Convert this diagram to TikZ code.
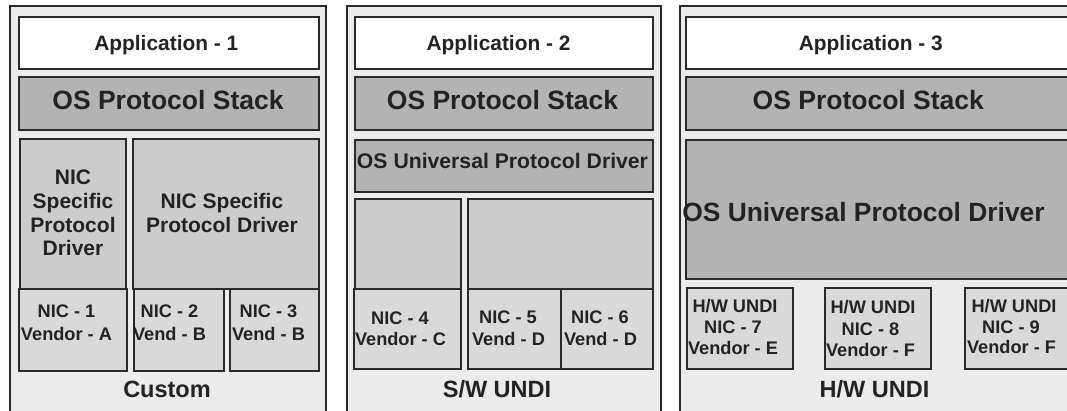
\documentclass[tikz,border=0pt]{standalone}
\usepackage{fontspec}
\setmainfont{Liberation Sans}
\definecolor{panelbg}{HTML}{EBEBEB}
\definecolor{stackgray}{HTML}{B3B3B3}
\definecolor{drvgray}{HTML}{CCCCCC}
\definecolor{nicgray}{HTML}{D9D9D9}
\definecolor{edge}{HTML}{2A2A2A}
\definecolor{ink}{HTML}{232323}
\newcommand\myfs[1]{\fontsize{#1}{#1}\selectfont\bfseries}
\newcommand\mybox[6]{\node[boxst,fill=#6,anchor=north west,minimum width={(#4-#2)*1pt},minimum height={(#5-#3)*1pt}] (#1) at (#2,#3) {};}
\newcommand\mytxt[5]{\node[lbl,font=\myfs{#4}] (#1) at (#2,#3) {#5};}
\begin{document}
\begin{tikzpicture}[x=1pt,y=-1pt,
  boxst/.style={draw=edge,line width=1.1pt,rectangle,inner sep=0pt,outer sep=0pt},
  panelst/.style={draw=edge,line width=1.3pt,fill=panelbg,rectangle,inner sep=0pt,outer sep=0pt},
  lbl/.style={text=ink,inner sep=0pt,anchor=base}]
\useasboundingbox (0,0) rectangle (1067,410);
\clip (0,0) rectangle (1067,410);
% panels
\node[panelst,anchor=north west,minimum width=316pt,minimum height=410pt] (p1) at (10,6) {};
\node[panelst,anchor=north west,minimum width=314pt,minimum height=410pt] (p2) at (347,6) {};
\node[panelst,anchor=north west,minimum width=395pt,minimum height=410pt] (p3) at (680,6) {};
% panel 1
\mybox{app1}{19}{17}{319}{69}{white}
\mybox{ps1}{19}{77}{319}{130}{stackgray}
\mybox{nsA}{20}{139}{126}{289}{drvgray}
\mybox{nsB}{133}{139}{319}{289}{drvgray}
\mybox{nic1}{19}{289}{127}{371}{nicgray}
\mybox{nic2}{134}{289}{224}{371}{nicgray}
\mybox{nic3}{230}{289}{319}{371}{nicgray}
% panel 2
\mybox{app2}{355}{17}{653}{69}{white}
\mybox{ps2}{355}{77}{653}{130}{stackgray}
\mybox{oud2}{355}{140}{653}{192}{stackgray}
\mybox{bl1}{355}{199}{461}{289}{drvgray}
\mybox{bl2}{468}{199}{653}{289}{drvgray}
\mybox{nic4}{354}{289}{461}{369}{nicgray}
\mybox{nic5}{468}{289}{561}{369}{nicgray}
\mybox{nic6}{561}{289}{653}{369}{nicgray}
% panel 3
\mybox{app3}{686}{17}{1075}{69}{white}
\mybox{ps3}{686}{77}{1075}{130}{stackgray}
\mybox{oud3}{686}{140}{1075}{279}{stackgray}
\mybox{nic7}{687}{288}{793}{369}{nicgray}
\mybox{nic8}{825}{288}{931}{369}{nicgray}
\mybox{nic9}{965}{288}{1071}{369}{nicgray}
% texts panel 1
\mytxt{tapp1}{166.3}{50}{20.9}{Application - 1}
\mytxt{tps1}{168}{109.3}{26.5}{OS Protocol Stack}
\mytxt{tnsA1}{73}{184}{21}{NIC}
\mytxt{tnsA2}{73}{208}{21}{Specific}
\mytxt{tnsA3}{73}{232}{21}{Protocol}
\mytxt{tnsA4}{73}{255}{21}{Driver}
\mytxt{tnsB1}{222}{208.5}{21}{NIC Specific}
\mytxt{tnsB2}{222}{232}{21}{Protocol Driver}
\mytxt{tnic1a}{66.5}{317}{18.2}{NIC - 1}
\mytxt{tnic1b}{66.5}{340}{18.2}{Vendor - A}
\mytxt{tnic2a}{169.5}{317}{18.2}{NIC - 2}
\mytxt{tnic2b}{169.5}{340}{18.2}{Vend - B}
\mytxt{tnic3a}{268.5}{317.5}{18.2}{NIC - 3}
\mytxt{tnic3b}{268.5}{340}{18.2}{Vend - B}
\mytxt{tcustom}{167}{397}{23.5}{Custom}
% texts panel 2
\mytxt{tapp2}{498.5}{50}{20.9}{Application - 2}
\mytxt{tps2}{502.5}{109.3}{26.5}{OS Protocol Stack}
\mytxt{toud2}{502.5}{168.3}{21.2}{OS Universal Protocol Driver}
\mytxt{tnic4a}{400}{324}{18.2}{NIC - 4}
\mytxt{tnic4b}{400.5}{345}{18.2}{Vendor - C}
\mytxt{tnic5a}{508}{323}{18.2}{NIC - 5}
\mytxt{tnic5b}{508.5}{345}{18.2}{Vend - D}
\mytxt{tnic6a}{600}{323}{18.2}{NIC - 6}
\mytxt{tnic6b}{600.5}{345}{18.2}{Vend - D}
\mytxt{tswundi}{497}{397}{23.5}{S/W UNDI}
% texts panel 3
\mytxt{tapp3}{870.8}{50}{20.9}{Application - 3}
\mytxt{tps3}{868.3}{109.3}{26.5}{OS Protocol Stack}
\mytxt{toud3}{863.5}{221}{26.4}{OS Universal Protocol Driver}
\mytxt{tnic7a}{735}{312}{18.2}{H/W UNDI}
\mytxt{tnic7b}{733}{333.3}{18.2}{NIC - 7}
\mytxt{tnic7c}{733}{354}{18.2}{Vendor - E}
\mytxt{tnic8a}{873}{313.3}{18.2}{H/W UNDI}
\mytxt{tnic8b}{870.5}{335}{18.2}{NIC - 8}
\mytxt{tnic8c}{870.5}{356}{18.2}{Vendor - F}
\mytxt{tnic9a}{1014}{312.7}{18.2}{H/W UNDI}
\mytxt{tnic9b}{1011}{333.3}{18.2}{NIC - 9}
\mytxt{tnic9c}{1011.5}{353.3}{18.2}{Vendor - F}
\mytxt{thwundi}{874.5}{397}{23.5}{H/W UNDI}
\end{tikzpicture}
\end{document}
